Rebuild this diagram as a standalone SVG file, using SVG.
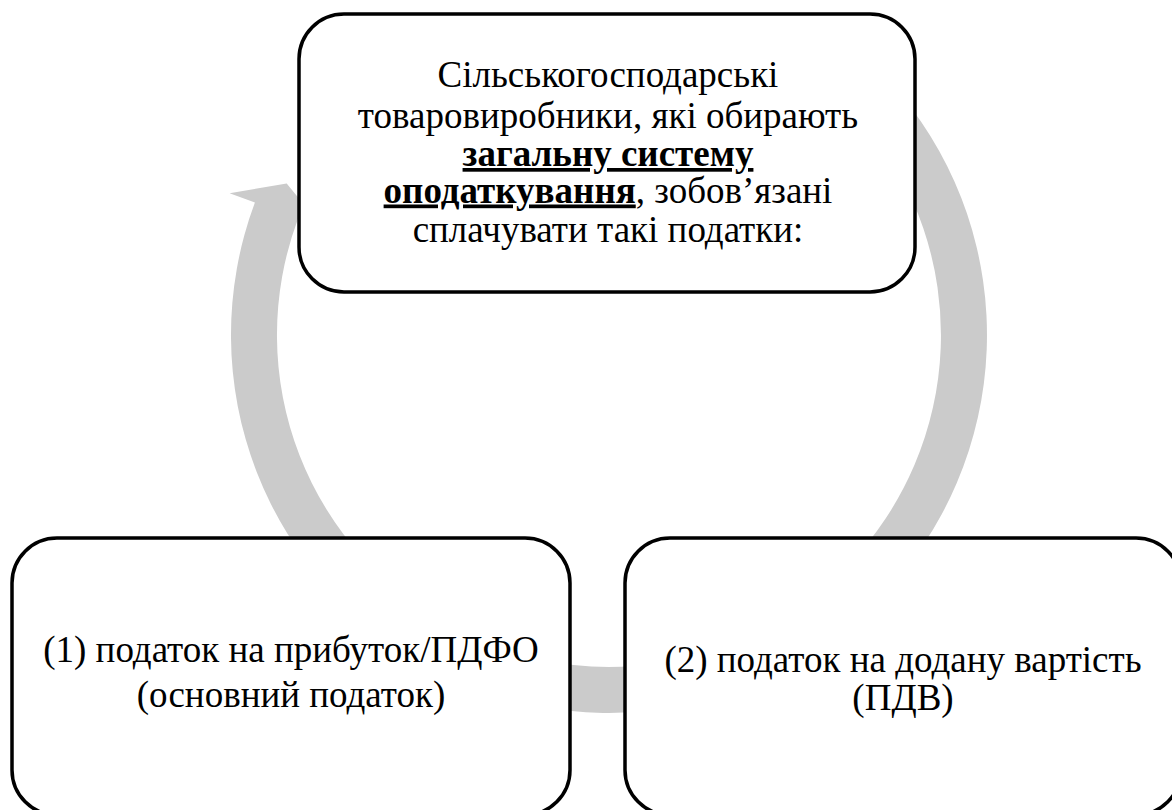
<svg xmlns="http://www.w3.org/2000/svg" width="1172" height="810" viewBox="0 0 1172 810">
  <style>
    .box { fill: #ffffff; stroke: #000000; stroke-width: 3.5; }
    .ring { fill: #cbcbcb; stroke: none; }
  </style>
  <rect width="1172" height="810" fill="#ffffff"/>
  <g id="connectors">
    <path class="ring" d="M 852.0 45.4 A 378 378 0 1 1 254.9 202.6 L 229.6 193.2 L 286.7 183.5 L 323.3 228.2 L 298.0 218.7 A 332 332 0 1 0 822.4 80.7 Z"/>
  </g>
  <g id="node-top">
    <rect class="box" x="299" y="14" width="616" height="278" rx="45" ry="45"/>
    <text x="608" y="87" font-family="Times New Roman, Liberation Serif, serif" font-size="37" text-anchor="middle">Сільськогосподарські</text>
    <text x="608" y="127.5" font-family="Times New Roman, Liberation Serif, serif" font-size="37" text-anchor="middle">товаровиробники, які обирають</text>
    <text x="608" y="166" font-family="Times New Roman, Liberation Serif, serif" font-size="37" text-anchor="middle" font-weight="bold" text-decoration="underline">загальну систему</text>
    <text x="608" y="202.5" font-family="Times New Roman, Liberation Serif, serif" font-size="37" text-anchor="middle"><tspan font-weight="bold" text-decoration="underline">оподаткування</tspan>, зобов’язані</text>
    <text x="608" y="242" font-family="Times New Roman, Liberation Serif, serif" font-size="37" text-anchor="middle">сплачувати такі податки:</text>
  </g>
  <g id="node-left">
    <rect class="box" x="12" y="538" width="558" height="277" rx="45" ry="45"/>
    <text x="291" y="662" font-family="Times New Roman, Liberation Serif, serif" font-size="37" text-anchor="middle">(1) податок на прибуток/ПДФО</text>
    <text x="291" y="707" font-family="Times New Roman, Liberation Serif, serif" font-size="37" text-anchor="middle">(основний податок)</text>
  </g>
  <g id="node-right">
    <rect class="box" x="625" y="538" width="556" height="277" rx="45" ry="45"/>
    <text x="903" y="672" font-family="Times New Roman, Liberation Serif, serif" font-size="37" text-anchor="middle">(2) податок на додану вартість</text>
    <text x="903" y="710" font-family="Times New Roman, Liberation Serif, serif" font-size="37" text-anchor="middle">(ПДВ)</text>
  </g>
</svg>
